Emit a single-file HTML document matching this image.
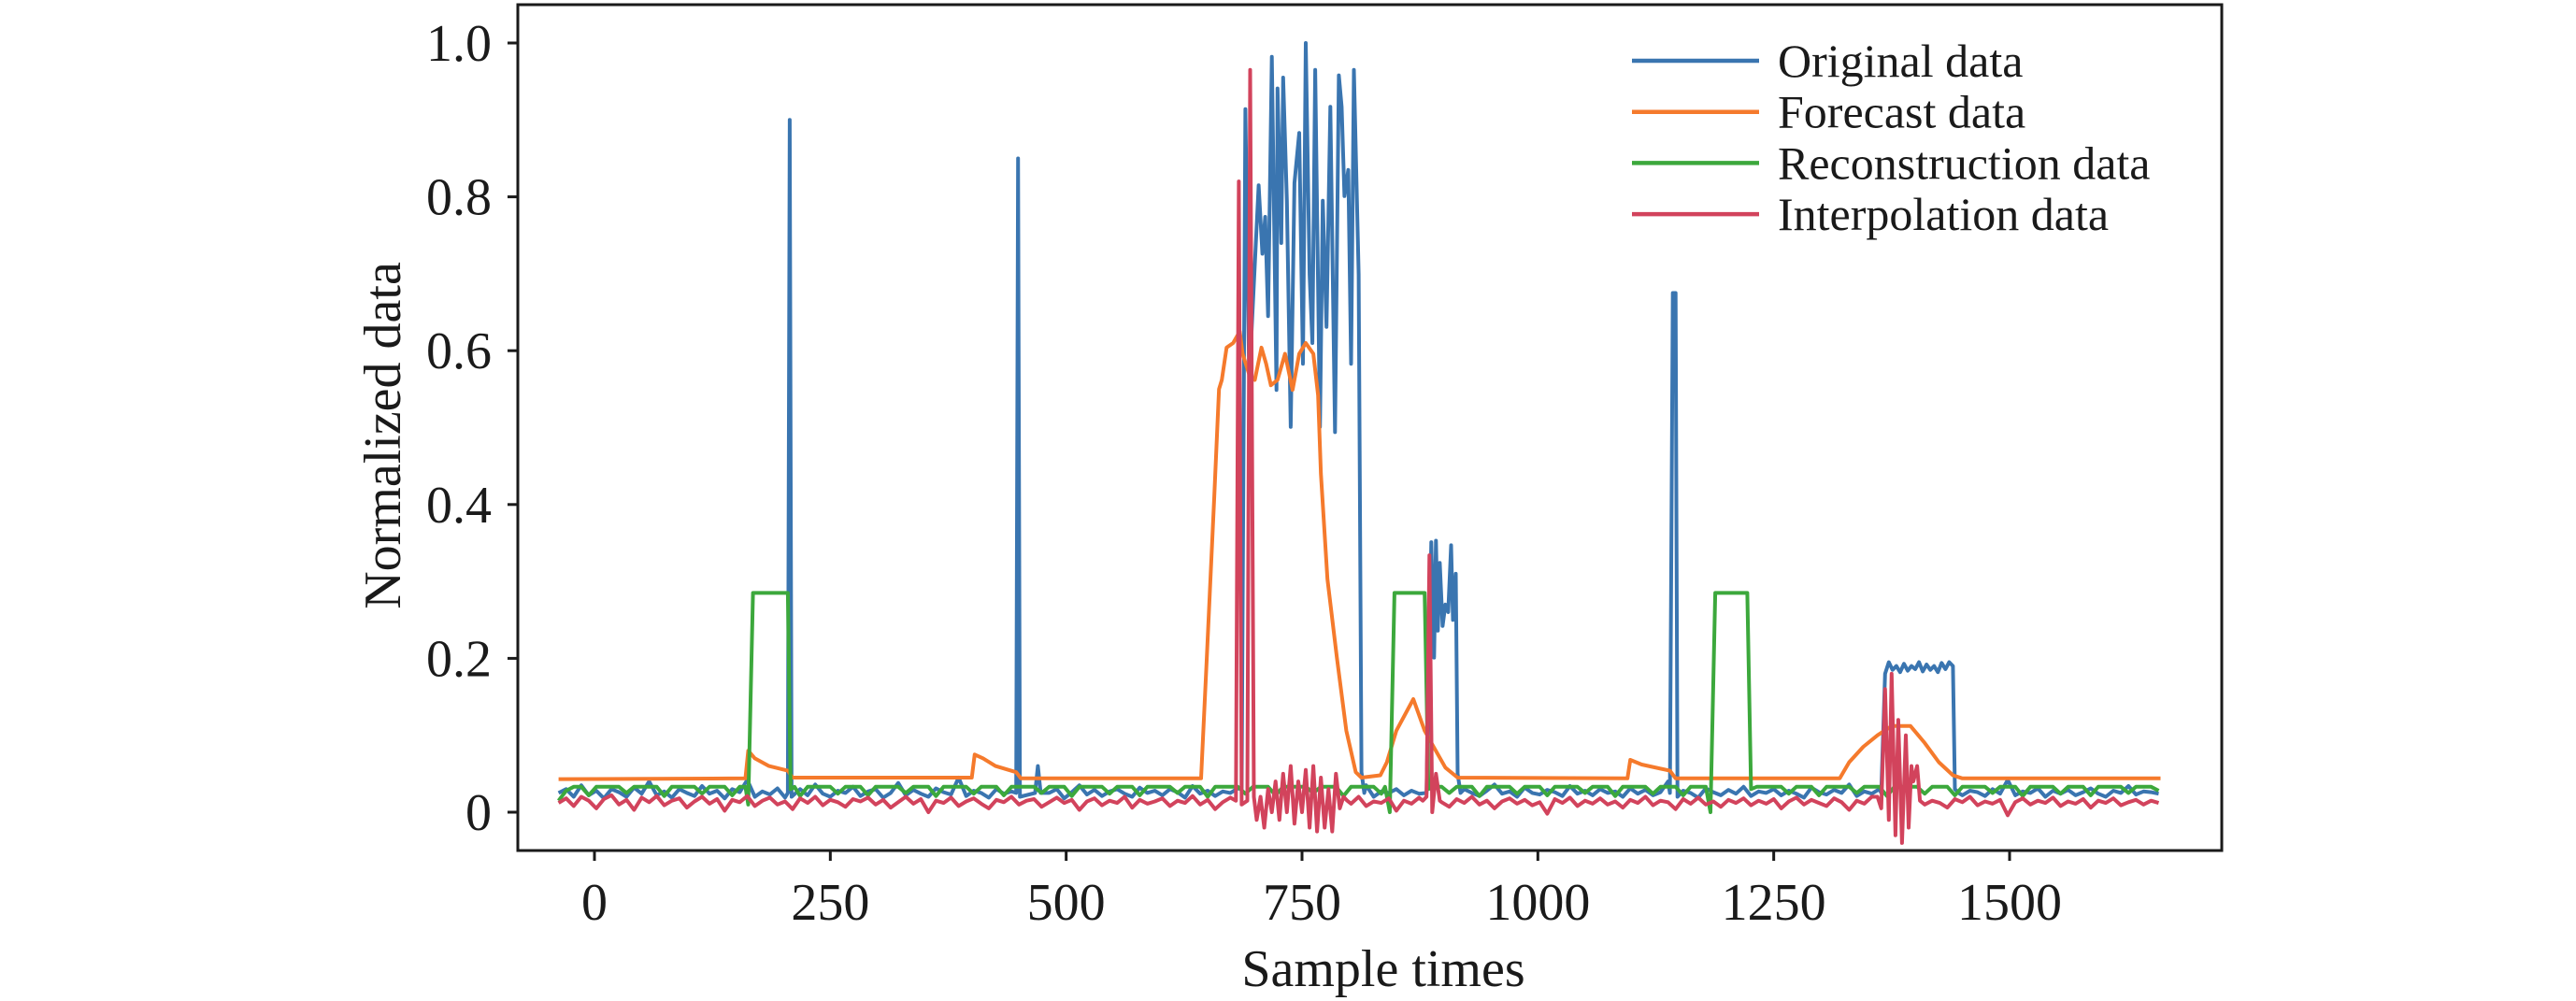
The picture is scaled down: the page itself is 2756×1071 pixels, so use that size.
<!DOCTYPE html>
<html><head><meta charset="utf-8"><style>
html,body{margin:0;padding:0;background:#fff;}
svg{display:block;font-family:"Liberation Serif",serif;}
</style></head><body>
<svg id="chart" width="2756" height="1071" viewBox="0 0 2756 1071" xmlns="http://www.w3.org/2000/svg">
<rect x="0" y="0" width="2756" height="1071" fill="#fff"/>
<g id="series"></g>
<rect x="554" y="5" width="1823" height="905" fill="none" stroke="#1a1a1a" stroke-width="3"/>
<g id="axes"></g>
<text x="1480" y="1055" font-size="56" text-anchor="middle" fill="#1a1a1a">Sample times</text>
<text x="0" y="0" font-size="56" text-anchor="middle" fill="#1a1a1a" transform="translate(428,466) rotate(-90)">Normalized data</text>
<g id="legend"></g>
</svg>
<script>
const xTicks=[0,250,500,750,1000,1250,1500];
const yTicks=[0,0.2,0.4,0.6,0.8,1.0];
const yTickLabels=["0","0.2","0.4","0.6","0.8","1.0"];
const seriesNames=["Original data","Forecast data","Reconstruction data","Interpolation data"];
const gridStart=-38, gridStep=8;
const blueBase=[.025,.03,.02,.035,.022,.028,.018,.03,.026,.02,.032,.024,.04,.022,.027,.019,.03,.025,.021,.034,
.024,.028,.018,.03,.026,.042,.02,.027,.023,.031,.019,.025,.03,.022,.036,.024,.02,.028,.025,.033,
.021,.027,.03,.019,.025,.038,.022,.029,.024,.02,.031,.026,.023,.045,.021,.028,.025,.019,.03,.024,
.027,.022,.033,.02,.028,.025,.03,.018,.026,.035,.023,.029,.021,.027,.03,.024,.02,.032,.025,.028,
.022,.03,.026,.019,.034,.024,.028,.021,.027,.025,.031,.02,.026,.038,.023,.028,.024,.03,.021,.027,
.025,.019,.032,.026,.022,.029,.024,.035,.02,.027,.025,.03,.022,.028,.024,.031,.019,.026,.029,.023,
.03,.025,.021,.028,.036,.024,.027,.02,.032,.025,.023,.029,.026,.021,.034,.024,.028,.022,.03,.025,
.027,.02,.031,.024,.029,.022,.026,.04,.023,.028,.025,.019,.031,.026,.022,.029,.024,.033,.021,.027,
.025,.03,.022,.028,.024,.019,.032,.026,.023,.029,.025,.036,.021,.027,.024,.03,.022,.028,.025,.031,
.023,.027,.02,.029,.025,.033,.022,.028,.026,.021,.03,.024,.042,.022,.027,.025,.031,.02,.028,.024,
.029,.022,.026,.031,.024,.02,.028,.025,.034,.023,.027,.026,.024];
const blueEvX=[205,207,209,447,449,451,467,470,473,
686,690,694,704,708,711,714,718,723,724,728,730,734,738,742,747,751,754,758,761,764,769,772,776,780,785,789,792,795,799,802,805,810,813,816,
882,887,890,892,894,896,899,902,905,908,910,913,915,918,
1140,1143,1146,1148,
1364,1368,1372,1376,1380,1384,1388,1392,1396,1400,1404,1408,1412,1416,1420,1424,1428,1432,1436,1440,1442,1446];
const blueEvY=[.025,.90,.02,.025,.85,.02,.025,.06,.025,
.03,.914,.562,.815,.726,.774,.645,.982,.549,.941,.74,.955,.795,.501,.818,.883,.583,1.0,.699,.61,.965,.501,.795,.631,.917,.494,.958,.917,.801,.835,.583,.965,.699,.052,.025,
.025,.351,.201,.353,.236,.324,.242,.27,.26,.347,.25,.31,.05,.025,
.025,.675,.675,.02,
.025,.18,.195,.185,.19,.182,.193,.184,.19,.186,.195,.183,.192,.185,.19,.182,.194,.186,.195,.19,.03,.025];
const redBase=[.012,.018,.008,.02,.015,.005,.017,.022,.01,.016,.003,.019,.013,.021,.009,.015,.018,.006,.014,.02,
.011,.017,.002,.016,.013,.021,.008,.015,.019,.01,.014,.004,.018,.012,.02,.009,.016,.013,.007,.017,
.014,.019,.01,.016,.006,.013,.02,.011,.017,.0,.015,.012,.019,.008,.014,.018,.011,.005,.016,.013,
.02,.01,.015,.017,.007,.013,.019,.012,.016,.003,.014,.018,.009,.015,.012,.02,.006,.016,.011,.014,
.018,.008,.015,.012,.021,.01,.016,.004,.013,.019,.011,.015,.007,.017,.013,.02,.009,.014,.016,.01,
.015,.019,.006,.013,.017,.011,.02,.008,.014,.012,.018,.002,.015,.011,.019,.009,.016,.013,.007,.017,
.012,.02,.01,.015,.005,.014,.018,.011,.016,.009,.013,-.002,.017,.012,.019,.008,.015,.011,.018,.01,
.014,.006,.016,.012,.02,.009,.015,.013,.004,.017,.011,.019,.01,.014,.007,.016,.012,.018,.009,.015,
.011,.017,.005,.014,.019,.01,.016,.012,.008,.018,.013,.003,.015,.011,.02,.009,.014,.016,.007,.013,
.018,.01,.015,.012,.006,.017,.013,.02,.009,.014,.011,.016,-.004,.013,.018,.01,.015,.012,.019,.008,
.014,.011,.017,.006,.015,.012,.018,.009,.013,.016,.01,.015,.012];
const redEvX=[680,683,686,692,695,699,702,706,710,714,718,722,726,730,734,738,742,746,750,754,758,762,766,770,774,778,782,786,790,794,798,
878,882,885,888,892,896,
1360,1364,1368,1372,1375,1379,1382,1386,1390,1393,1396,1398,1402,1405];
const redEvY=[.015,.82,.01,.015,.965,.02,-.01,.02,-.02,.03,.0,.04,-.01,.05,.0,.06,-.015,.04,.0,.055,-.02,.06,-.025,.045,-.02,.03,-.025,.05,.005,.02,.015,
.015,.02,.334,.0,.05,.015,
.02,.005,.16,-.01,.18,-.03,.12,-.04,.1,-.02,.06,.04,.06,.015];
const greenBase=[.015,.028,.033,.033,.022,.033,.033,.033,.033,.025,.033,.033,.033,.033,.021,.033,.033,.033,.033,.024,
.033,.033,.033,.022,.033,.033,.033,.033,.025,.033,.033,.033,.021,.033,.033,.033,.033,.024,.033,.033,
.033,.022,.033,.033,.033,.033,.025,.033,.033,.033,.021,.033,.033,.033,.033,.024,.033,.033,.033,.022,
.033,.033,.033,.033,.025,.033,.033,.033,.021,.033,.033,.033,.033,.024,.033,.033,.033,.022,.033,.033,
.033,.033,.025,.033,.033,.033,.02,.033,.033,.033,.033,.024,.033,.033,.033,.022,.033,.033,.033,.033,
.025,.033,.033,.033,.021,.033,.033,.033,.033,.024,.033,.033,.033,.022,.033,.033,.033,.033,.025,.033,
.033,.033,.021,.033,.033,.033,.033,.024,.033,.033,.033,.022,.033,.033,.033,.033,.025,.033,.033,.033,
.021,.033,.033,.033,.033,.024,.033,.033,.033,.022,.033,.033,.033,.033,.025,.033,.033,.033,.021,.033,
.033,.033,.033,.024,.033,.033,.033,.022,.033,.033,.033,.033,.025,.033,.033,.033,.021,.033,.033,.033,
.033,.024,.033,.033,.033,.022,.033,.033,.033,.033,.025,.033,.033,.033,.021,.033,.033,.033,.033,.024,
.033,.033,.033,.022,.033,.033,.033,.033,.025,.033,.033,.033,.028];
const greenEvX=[160,163,168,205,208,212,838,843,848,880,884,890,1178,1183,1188,1222,1226,1232];
const greenEvY=[.033,.01,.285,.285,.03,.033,.033,.0,.285,.285,.03,.033,.033,.0,.285,.285,.03,.033];
const orangeX=[-38,160,163,170,185,205,210,400,403,412,425,447,452,643,649,657,662,665,670,677,684,687,694,700,707,712,717,724,732,740,747,754,762,767,770,777,787,797,807,813,833,840,850,868,880,889,902,915,1095,1098,1110,1140,1146,1320,1330,1345,1360,1375,1395,1410,1425,1440,1450,1660];
const orangeY=[.043,.044,.08,.07,.06,.054,.045,.045,.075,.07,.06,.052,.044,.044,.2,.41,.55,.562,.604,.61,.625,.596,.569,.562,.604,.583,.555,.562,.596,.549,.596,.61,.596,.542,.44,.303,.201,.106,.052,.045,.048,.065,.106,.147,.106,.086,.058,.045,.044,.068,.062,.054,.044,.044,.065,.085,.1,.112,.112,.09,.065,.048,.044,.044];

const X=v=>636+v*1.00933;
const Y=v=>869-v*823;
const NS="http://www.w3.org/2000/svg";
function mk(tag,attrs,parent){const e=document.createElementNS(NS,tag);for(const k in attrs)e.setAttribute(k,attrs[k]);parent.appendChild(e);return e;}
function merge(base,evX,evY){
  const clusters=[];let s=evX[0],p=evX[0];
  for(let i=1;i<evX.length;i++){if(evX[i]-p>60){clusters.push([s,p]);s=evX[i];}p=evX[i];}
  clusters.push([s,p]);
  const pts=[];
  base.forEach((v,i)=>{const x=gridStart+i*gridStep;if(!clusters.some(c=>x>=c[0]-1&&x<=c[1]+1))pts.push([x,v]);});
  evX.forEach((x,i)=>pts.push([x,evY[i]]));
  pts.sort((a,b)=>a[0]-b[0]);return pts;
}
const sg=document.getElementById('series');
function draw(pts,color,name){
  const p=mk('polyline',{points:pts.map(q=>X(q[0]).toFixed(1)+','+Y(q[1]).toFixed(1)).join(' '),fill:'none',stroke:color,'stroke-width':4,'stroke-linejoin':'round'},sg);
  
  
}
const colors=["#3a75b0","#f57a2c","#3ca83c","#d2435c"];
draw(merge(blueBase,blueEvX,blueEvY),colors[0],'original-data-line');
draw(orangeX.map((x,i)=>[x,orangeY[i]]),colors[1],'forecast-data-line');
draw(merge(greenBase,greenEvX,greenEvY),colors[2],'reconstruction-data-line');
draw(merge(redBase,redEvX,redEvY),colors[3],'interpolation-data-line');

const ax=document.getElementById('axes');
xTicks.forEach(t=>{
  const l=mk('line',{x1:X(t),x2:X(t),y1:910,y2:921,stroke:'#1a1a1a','stroke-width':3},ax);
  
  
  const tx=mk('text',{x:X(t),y:984,'font-size':56,'text-anchor':'middle',fill:'#1a1a1a'},ax);
  tx.textContent=String(t);
  
  
});
yTicks.forEach((t,i)=>{
  const l=mk('line',{x1:543,x2:554,y1:Y(t),y2:Y(t),stroke:'#1a1a1a','stroke-width':3},ax);
  
  
  const tx=mk('text',{x:526,y:Y(t)+19,'font-size':56,'text-anchor':'end',fill:'#1a1a1a'},ax);
  tx.textContent=yTickLabels[i];
  
  
});
const lg=document.getElementById('legend');
seriesNames.forEach((n,i)=>{
  const y=65+i*54.7;
  const g=mk('g',{},lg);
  
  
  mk('line',{x1:1746,x2:1882,y1:y,y2:y,stroke:colors[i],'stroke-width':4.5},g);
  const tx=mk('text',{x:1902,y:y+17,'font-size':50,fill:'#1a1a1a'},g);
  tx.textContent=n;
});
</script>
</body></html>
